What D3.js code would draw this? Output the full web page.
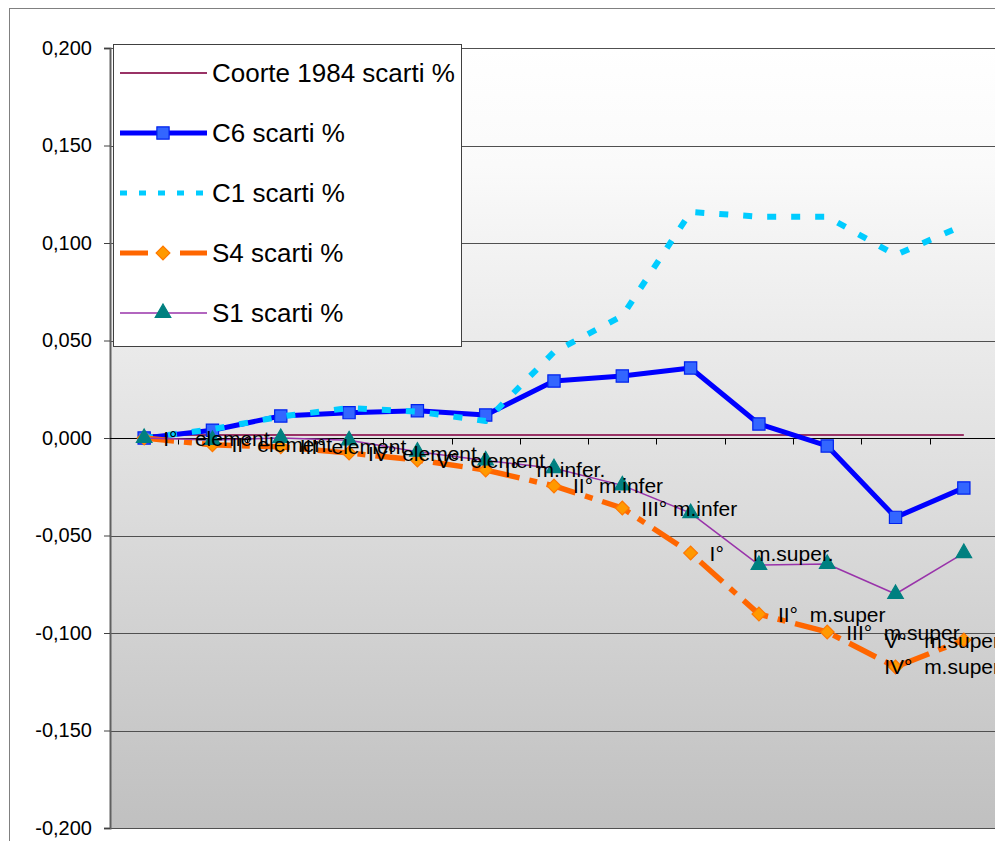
<!DOCTYPE html>
<html>
<head>
<meta charset="utf-8">
<script src="https://cdn.jsdelivr.net/npm/d3@7"></script>
<style>
  body { margin: 0; background: #fff; }
  text { font-family: "Liberation Sans", Arial, sans-serif; fill: #000; }
  .lbl { white-space: pre; }
</style>
</head>
<body>
<svg id="chart" width="995" height="841"></svg>
<script>
// category names (shown as data labels on the S4 series)
const categories = [
  "I°   element", "II° element", "III° element", "IV° element", "V°  element",
  "I°   m.infer.", "II° m.infer", "III° m.infer",
  "I°     m.super.", "II°  m.super", "III°  m.super", "IV°  m.super", "V°   m.super"
];

const coorte = [0.0015, 0.0015, 0.0015, 0.0015, 0.0015, 0.0015, 0.0015, 0.0015, 0.0015, 0.0015, 0.0015, 0.0015, 0.0015];
const c6 = [0.0000, 0.0040, 0.0113, 0.0130, 0.0140, 0.0118, 0.0292, 0.0318, 0.0359, 0.0072, -0.0041, -0.0407, -0.0256];
const c1 = [0.0000, 0.0045, 0.0110, 0.0154, 0.0135, 0.0087, 0.0441, 0.0626, 0.1159, 0.1135, 0.1135, 0.0938, 0.1092];
const s4 = [0.0000, -0.0035, -0.0045, -0.0077, -0.0113, -0.0164, -0.0246, -0.0359, -0.0590, -0.0903, -0.0995, -0.1174, -0.1036];
const s1 = [0.0000, -0.0010, 0.0000, -0.0012, -0.0070, -0.0115, -0.0155, -0.0243, -0.0385, -0.0651, -0.0646, -0.0800, -0.0590];

const yTicks = [-0.2, -0.15, -0.1, -0.05, 0, 0.05, 0.1, 0.15, 0.2];

const seriesNames = ["Coorte 1984 scarti %", "C6 scarti %", "C1 scarti %", "S4 scarti %", "S1 scarti %"];

const series = [
  { name: seriesNames[0], values: coorte, color: "#993366", width: 2, dash: null, marker: null },
  { name: seriesNames[1], values: c6, color: "#0000ff", width: 5, dash: null,
    marker: { type: d3.symbolSquare, size: 150, fill: "#3366ff", stroke: "#0022ee", rotate: 0 } },
  { name: seriesNames[2], values: c1, color: "#00ccff", width: 6, dash: "9,15", marker: null },
  { name: seriesNames[3], values: s4, color: "#ff6600", width: 5.5, dash: "30,10,8,10",
    marker: { type: d3.symbolSquare, size: 95, fill: "#ff9900", stroke: "#ff7700", rotate: 45 } },
  { name: seriesNames[4], values: s1, color: "#9933aa", width: 1.5, dash: null,
    marker: { type: d3.symbolTriangle, size: 105, fill: "#008080", stroke: "#008080", rotate: 0 } }
];

const svg = d3.select("#chart");
const plot = { left: 110, right: 998, top: 48, bottom: 828 };
const chartRight = 1000;

const x = d3.scaleBand().domain(categories).range([plot.left, plot.right]);
const y = d3.scaleLinear().domain([-0.2, 0.2]).range([plot.bottom, plot.top]);
const cx = d => x(d) + x.bandwidth() / 2;

const itFormat = d3.formatLocale({ decimal: ",", thousands: ".", grouping: [3], currency: ["", ""], minus: "-" }).format(".3f");

// gradient for plot area
const defs = svg.append("defs");
const grad = defs.append("linearGradient")
  .attr("id", "bg").attr("x1", 0).attr("y1", 0).attr("x2", 0).attr("y2", 1);
grad.append("stop").attr("offset", "0%").attr("stop-color", "#ffffff");
grad.append("stop").attr("offset", "15%").attr("stop-color", "#fafafa");
grad.append("stop").attr("offset", "100%").attr("stop-color", "#c0c0c0");

// chart frame
svg.append("rect")
  .attr("x", 9.5).attr("y", 8.5)
  .attr("width", 1000).attr("height", 850)
  .attr("fill", "#fff").attr("stroke", "#808080");

svg.append("rect")
  .attr("x", plot.left).attr("y", plot.top)
  .attr("width", plot.right - plot.left).attr("height", plot.bottom - plot.top)
  .attr("fill", "url(#bg)");

// gridlines
svg.append("g")
  .selectAll("line")
  .data(yTicks)
  .enter()
  .append("line")
  .attr("x1", plot.left).attr("x2", plot.right)
  .attr("y1", d => Math.round(y(d)) + 0.5).attr("y2", d => Math.round(y(d)) + 0.5)
  .attr("stroke", "#505050")
  .attr("stroke-width", 1);

// y axis
const yAxis = d3.axisLeft(y).tickValues(yTicks).tickSize(6).tickPadding(12).tickFormat(itFormat);
const yg = svg.append("g")
  .attr("transform", `translate(${plot.left},0)`)
  .call(yAxis);
yg.select(".domain").attr("stroke", "#606060").attr("stroke-width", 2);
yg.selectAll(".tick line").attr("stroke", "#404040");
yg.selectAll(".tick text")
  .style("font-size", "20px")
  .attr("font-family", "'Liberation Sans', Arial, sans-serif");

// category axis on the zero line, ticks at band boundaries
const zeroY = Math.round(y(0)) + 0.5;
svg.append("line")
  .attr("x1", plot.left).attr("x2", plot.right)
  .attr("y1", zeroY).attr("y2", zeroY)
  .attr("stroke", "#000").attr("stroke-width", 1);
svg.append("g")
  .selectAll("line")
  .data(categories.slice(1))
  .enter()
  .append("line")
  .attr("x1", d => Math.round(x(d)) + 0.5).attr("x2", d => Math.round(x(d)) + 0.5)
  .attr("y1", zeroY).attr("y2", zeroY + 6)
  .attr("stroke", "#000");

// series lines
const line = d3.line()
  .x((d, i) => cx(categories[i]))
  .y(d => y(d));

series.forEach(s => {
  const g = svg.append("g");
  g.append("path")
    .datum(s.values)
    .attr("fill", "none")
    .attr("stroke", s.color)
    .attr("stroke-width", s.width)
    .attr("stroke-dasharray", s.dash)
    .attr("stroke-linejoin", "round")
    .attr("d", line);

  if (s.marker) {
    const sym = d3.symbol().type(s.marker.type).size(s.marker.size);
    g.selectAll("path.mk")
      .data(s.values)
      .enter()
      .append("path")
      .attr("class", "mk")
      .attr("transform", (d, i) => `translate(${cx(categories[i])},${y(d)}) rotate(${s.marker.rotate})`)
      .attr("d", sym)
      .attr("fill", s.marker.fill)
      .attr("stroke", s.marker.stroke)
      .attr("stroke-width", 1.2);
  }
});

// data labels on S4 (category names), kept inside the chart area
svg.append("g")
  .selectAll("text")
  .data(s4)
  .enter()
  .append("text")
  .attr("class", "lbl")
  .attr("y", d => y(d))
  .attr("dominant-baseline", "central")
  .style("font-size", "21px")
  .text((d, i) => categories[i])
  .attr("x", function(d, i) {
    const w = this.getComputedTextLength();
    return Math.min(cx(categories[i]) + 19, chartRight - w);
  });

// legend
const legend = svg.append("g");
legend.append("rect")
  .attr("x", 113.5).attr("y", 44.5)
  .attr("width", 348).attr("height", 302)
  .attr("fill", "#fff").attr("stroke", "#404040");

series.forEach((s, i) => {
  const ly = 73 + i * 60;
  legend.append("line")
    .attr("x1", 120).attr("x2", 207)
    .attr("y1", ly).attr("y2", ly)
    .attr("stroke", s.color)
    .attr("stroke-width", Math.min(s.width, 5))
    .attr("stroke-dasharray", s.dash ? (i === 2 ? "7,12" : "28,12,8,12") : null);
  if (s.marker) {
    legend.append("path")
      .attr("transform", `translate(163,${ly}) rotate(${s.marker.rotate})`)
      .attr("d", d3.symbol().type(s.marker.type).size(s.marker.size)())
      .attr("fill", s.marker.fill)
      .attr("stroke", s.marker.stroke)
      .attr("stroke-width", 1.2);
  }
  legend.append("text")
    .attr("class", "lbl")
    .attr("x", 212)
    .attr("y", ly)
    .attr("dominant-baseline", "central")
    .style("font-size", "26px")
    .text(s.name);
});
</script>
</body>
</html>
